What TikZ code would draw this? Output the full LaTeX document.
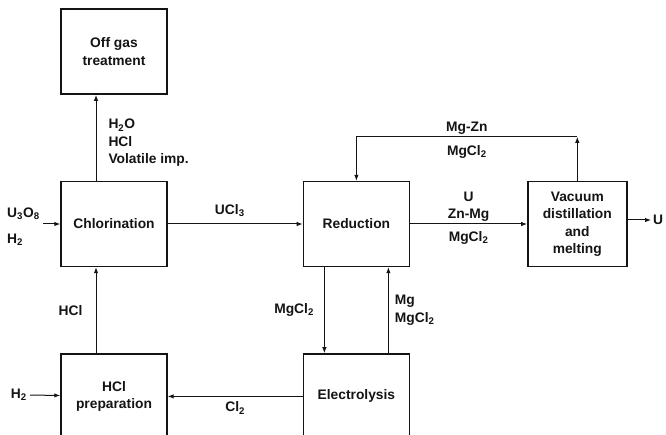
\documentclass[tikz,border=0pt]{standalone}
\usepackage{fontspec}
\setmainfont{Liberation Sans}
\usepackage{tikz}
\usetikzlibrary{arrows.meta,calc,positioning}
\definecolor{Ink}{HTML}{141414}

\begin{document}
\begin{tikzpicture}[x=1pt,y=-1pt,node distance=86pt,>={Latex[length=6pt,width=4.5pt]},
    unit/.style={draw=Ink,line width=1.4pt,minimum width=106pt,minimum height=85pt,align=center,
      text=Ink,font=\bfseries\fontsize{13.8}{17.5}\selectfont},
    lbl/.style={text=Ink,inner sep=2pt,font=\bfseries\fontsize{13.8}{17.5}\selectfont},
    flow/.style={->,line width=1pt,Ink}]
  \useasboundingbox (0,0) rectangle (666,435);
  \clip (0,0) rectangle (666,435);
  % process units
  \node[unit] (chl) at (114,224) {Chlorination};
  \node[unit,above=86pt of chl] (off) {Off gas\\treatment};
  \node[unit,right=135pt of chl] (red) {Reduction};
  \node[unit,minimum width=99pt,right=117pt of red] (vac) {Vacuum\\distillation\\and\\melting};
  \node[unit,below=86pt of chl] (hcl) {HCl\\preparation};
  \node[unit,below=86pt of red] (ele) {Electrolysis};
  % feeds and product
  \coordinate (fin) at (43,224);
  \node[lbl,anchor=west] (uox) at (5,214) {U\textsubscript{3}O\textsubscript{8}};
  \node[lbl,anchor=west] (hyd) at (5,240) {H\textsubscript{2}};
  \coordinate (hfin) at (30,395);
  \node[lbl,left=1pt of hfin] (hyd2) {H\textsubscript{2}};
  \node[lbl,anchor=west] (uout) at (651,220) {U};
  \coordinate (ret) at ($(vac.north)+(0pt,44pt)$);
  % streams
  \draw[flow] (fin) -- (chl.west);
  \draw[flow] ([xshift=-18pt]chl.north) -- node[lbl,right=10pt,pos=0.44,align=left]{H\textsubscript{2}O\\HCl\\Volatile imp.} ([xshift=-18pt]off.south);
  \draw[flow] (chl) -- node[lbl,above=5pt,pos=0.46]{UCl\textsubscript{3}} (red);
  \draw[flow] (red) -- node[lbl,above,align=center]{U\\Zn-Mg} node[lbl,below=5pt]{MgCl\textsubscript{2}} (vac);
  \draw[flow] (vac.north) -- (ret);
  \draw[flow] (ret) -- node[lbl,above]{Mg-Zn} node[lbl,below=6pt]{MgCl\textsubscript{2}} (ret -| red.north) -- (red.north);
  \draw[flow] ([yshift=4pt]vac.east) -- (uout);
  \draw[flow] ([xshift=-32pt]red.south) -- node[lbl,left=8pt]{MgCl\textsubscript{2}} ([xshift=-32pt]ele.north);
  \draw[flow] ([xshift=32pt]ele.north) -- node[lbl,right=4pt,align=left]{Mg\\MgCl\textsubscript{2}} ([xshift=32pt]red.south);
  \draw[flow] (ele) -- node[lbl,below=3pt]{Cl\textsubscript{2}} (hcl);
  \draw[flow] (hfin) -- (hcl);
  \draw[flow] ([xshift=-18pt]hcl.north) -- node[lbl,left=11pt]{HCl} ([xshift=-18pt]chl.south);
\end{tikzpicture}
\end{document}
